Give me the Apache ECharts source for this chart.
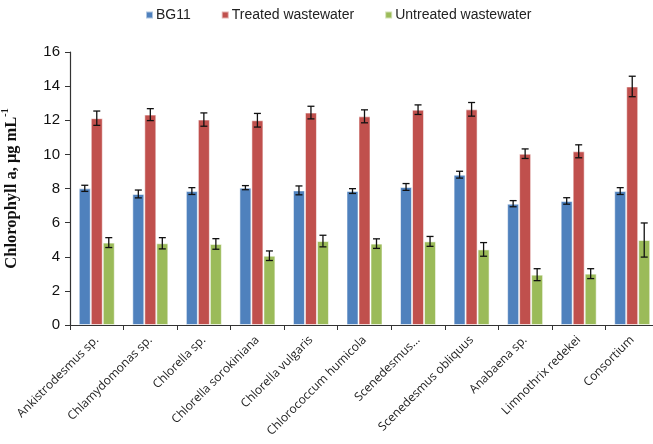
<!DOCTYPE html>
<html>
<head>
<meta charset="utf-8">
<script src="https://cdn.jsdelivr.net/npm/echarts@6/dist/echarts.min.js"></script>
<style>
  html, body { margin: 0; padding: 0; background: #fff; }
  #chart { width: 653px; height: 444px; }
</style>
</head>
<body>
<div id="chart"></div>
<script>
// Strains / cultures on the x axis
const categories = [
  'Ankistrodesmus sp.', 'Chlamydomonas sp.', 'Chlorella sp.', 'Chlorella sorokiniana',
  'Chlorella vulgaris', 'Chlorococcum humicola', 'Scenedesmus...', 'Scenedesmus obliquus',
  'Anabaena sp.', 'Limnothrix redekei', 'Consortium'
];

// Mean chlorophyll a (µg mL-1) per medium
const bg11 = [8.01, 7.68, 7.85, 8.05, 7.89, 7.85, 8.09, 8.81, 7.11, 7.27, 7.85];
const treated = [12.12, 12.33, 12.04, 12.00, 12.45, 12.23, 12.62, 12.64, 10.04, 10.18, 13.98];
const untreated = [4.83, 4.79, 4.75, 4.06, 4.92, 4.77, 4.90, 4.43, 2.95, 3.01, 4.98];

// Standard deviations (error bars)
const bg11Err = [0.18, 0.23, 0.20, 0.12, 0.26, 0.14, 0.20, 0.20, 0.18, 0.19, 0.20];
const treatedErr = [0.42, 0.35, 0.39, 0.40, 0.37, 0.38, 0.28, 0.40, 0.28, 0.38, 0.60];
const untreatedErr = [0.29, 0.33, 0.31, 0.28, 0.34, 0.28, 0.29, 0.40, 0.35, 0.29, 1.00];

const yTicks = { min: 0, max: 16, interval: 2 };

const seriesNames = ['BG11', 'Treated wastewater', 'Untreated wastewater'];
const colors = ['#4F81BD', '#C0504D', '#9BBB59'];
const BAR_W = 12;

function barSeries(name, values, color) {
  return {
    name: name,
    type: 'bar',
    data: values,
    barWidth: BAR_W,
    barGap: '0%',
    itemStyle: { color: color, borderColor: 'rgba(255,255,255,0.55)', borderWidth: 1 },
    z: 2
  };
}

// I-beam error bars, shifted to sit on the matching bar of each group
function errorSeries(values, errs, shift) {
  return {
    type: 'custom',
    silent: true,
    z: 5,
    data: values.map((v, i) => [i, v, errs[i]]),
    renderItem: function (params, api) {
      const i = api.value(0), v = api.value(1), e = api.value(2);
      const hi = api.coord([i, v + e]);
      const lo = api.coord([i, v - e]);
      const x = hi[0] + shift;
      const cap = 3.5;
      const style = { stroke: '#111', lineWidth: 1.3, fill: null };
      return {
        type: 'group',
        children: [
          { type: 'line', shape: { x1: x, y1: hi[1], x2: x, y2: lo[1] }, style: style },
          { type: 'line', shape: { x1: x - cap, y1: hi[1], x2: x + cap, y2: hi[1] }, style: style },
          { type: 'line', shape: { x1: x - cap, y1: lo[1], x2: x + cap, y2: lo[1] }, style: style }
        ]
      };
    }
  };
}

const chart = echarts.init(document.getElementById('chart'), null, { renderer: 'canvas' });
chart.setOption({
  animation: false,
  backgroundColor: '#fff',
  legend: {
    data: seriesNames,
    left: 140,
    top: 3,
    itemWidth: 7,
    itemHeight: 7,
    itemGap: 30,
    icon: 'rect',
    textStyle: { fontFamily: 'Liberation Sans, Arial', fontSize: 14, color: '#222', padding: [0, 0, 0, -2] }
  },
  grid: { left: 70, right: -6, top: 52, bottom: 119, containLabel: false, outerBoundsMode: 'none' },
  xAxis: {
    type: 'category',
    data: categories,
    boundaryGap: true,
    axisLine: { lineStyle: { color: '#333', width: 1.2 } },
    axisTick: { show: true, length: 5, lineStyle: { color: '#333' } },
    axisLabel: {
      interval: 0,
      rotate: 45,
      margin: 13,
      fontFamily: 'Open Sans, Liberation Sans, Arial',
      fontSize: 12,
      color: '#222'
    }
  },
  yAxis: {
    type: 'value',
    min: yTicks.min,
    max: yTicks.max,
    interval: yTicks.interval,
    name: '{t|Chlorophyll a, μg mL}{s|-1}',
    nameLocation: 'middle',
    nameRotate: 90,
    nameGap: 50,
    nameTextStyle: {
      rich: {
        t: { fontFamily: 'Liberation Serif, Times New Roman', fontWeight: 'bold', fontSize: 16.5, color: '#111', verticalAlign: 'bottom', lineHeight: 20 },
        s: { fontFamily: 'Liberation Serif, Times New Roman', fontWeight: 'bold', fontSize: 10, color: '#111', verticalAlign: 'top', lineHeight: 20, padding: [0, 0, 6, 0] }
      }
    },
    axisLine: { show: true, lineStyle: { color: '#333', width: 1.2 } },
    axisTick: { show: true, length: 5, lineStyle: { color: '#333' } },
    splitLine: { show: false },
    axisLabel: {
      margin: 10,
      fontFamily: 'Liberation Sans, Arial',
      fontSize: 15,
      color: '#111'
    }
  },
  series: [
    barSeries(seriesNames[0], bg11, colors[0]),
    barSeries(seriesNames[1], treated, colors[1]),
    barSeries(seriesNames[2], untreated, colors[2]),
    errorSeries(bg11, bg11Err, -BAR_W),
    errorSeries(treated, treatedErr, 0),
    errorSeries(untreated, untreatedErr, BAR_W)
  ]
});
</script>
</body>
</html>
